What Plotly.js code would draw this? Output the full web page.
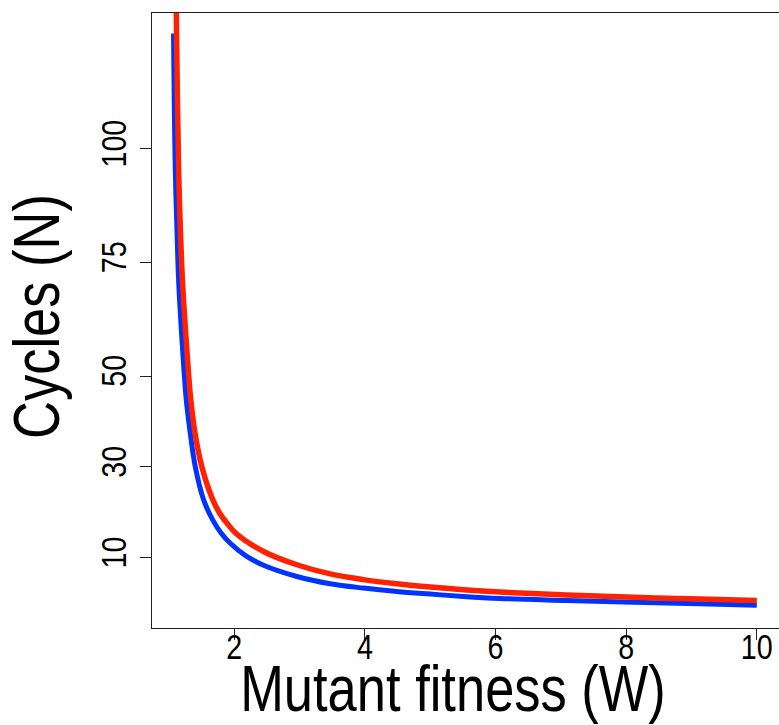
<!DOCTYPE html>
<html>
<head>
<meta charset="utf-8">
<script src="https://cdn.plot.ly/plotly-3.0.1.min.js"></script>
<style>
html, body { margin: 0; padding: 0; overflow: hidden; background: #fff; }
#chart { width: 780px; height: 725px; }
</style>
</head>
<body>
<div id="chart"></div>
<script>
// Mutant fitness (W) and cycles (N)
const blueW = [1.071, 1.097, 1.140, 1.163, 1.227, 1.266, 1.327, 1.403, 1.530, 1.668, 1.801, 1.939, 2.168, 2.448, 2.959, 3.468, 3.978, 4.489, 4.998, 5.507, 6.069, 7.089, 8.108, 9.128, 10.0];
const blueN = [125.4, 96.0, 74.1, 66.7, 52.1, 44.7, 37.4, 30.1, 22.8, 18.4, 15.4, 13.2, 10.55, 8.36, 5.89, 4.29, 3.34, 2.59, 2.02, 1.50, 1.06, 0.62, 0.22, -0.11, -0.45];

const redW = [1.100, 1.113, 1.148, 1.197, 1.224, 1.293, 1.335, 1.400, 1.503, 1.671, 1.782, 1.908, 2.023, 2.448, 2.959, 3.468, 3.978, 4.489, 4.998, 5.507, 6.069, 7.089, 8.108, 9.128, 10.0];
const redN = [141, 129.9, 96.0, 74.1, 66.7, 52.1, 44.7, 37.4, 30.1, 22.8, 19.7, 17.3, 15.4, 11.4, 8.47, 6.45, 5.2, 4.29, 3.56, 2.97, 2.46, 1.82, 1.31, 0.93, 0.62];

const xTicks = [2, 4, 6, 8, 10];
const yTicks = [10, 30, 50, 75, 100];

const FONT = '"Liberation Sans", Arial, Helvetica, sans-serif';
const CONDENSE = 0.82;          // the reference uses a narrow sans face
const XTITLE_SHIFT = [-13, 0];  // screen offsets for the titles
const YTITLE_SHIFT = [-3, -4];

const traces = [
  { x: blueW, y: blueN, type: 'scatter', mode: 'lines',
    line: { color: '#0033FF', width: 5, shape: 'spline', smoothing: 1 }, hoverinfo: 'skip' },
  { x: redW, y: redN, type: 'scatter', mode: 'lines',
    line: { color: '#FF2200', width: 5.5, shape: 'spline', smoothing: 1 }, hoverinfo: 'skip' }
];

const layout = {
  width: 780, height: 725,
  margin: { l: 152, r: 0, t: 13, b: 97, pad: 0 },
  paper_bgcolor: '#fff', plot_bgcolor: '#fff',
  showlegend: false,
  font: { family: FONT, color: '#000' },
  xaxis: {
    range: [0.741, 10.355], tickvals: xTicks, ticktext: xTicks.map(String),
    showgrid: false, zeroline: false,
    showline: true, mirror: true, linecolor: '#222', linewidth: 1,
    ticks: 'outside', ticklen: 11, tickwidth: 1, tickcolor: '#222',
    ticklabelstandoff: -23,
    tickfont: { size: 35, family: FONT, color: '#000' },
    title: { text: 'Mutant fitness (W)', font: { size: 64, family: FONT, color: '#000' }, standoff: 0 },
    automargin: false
  },
  yaxis: {
    range: [-5.45, 129.9], tickvals: yTicks, ticktext: yTicks.map(String),
    showgrid: false, zeroline: false,
    showline: true, mirror: true, linecolor: '#222', linewidth: 1,
    ticks: 'outside', ticklen: 11, tickwidth: 1, tickcolor: '#222',
    tickangle: -90,
    tickfont: { size: 35, family: FONT, color: '#000' },
    title: { text: 'Cycles (N)', font: { size: 64, family: FONT, color: '#000' }, standoff: 10 },
    automargin: false
  }
};

function condense(node, shift) {
  const bb = node.getBBox();
  const cx = bb.x + bb.width / 2, cy = bb.y + bb.height / 2;
  const t = node.getAttribute('transform') || '';
  const outer = shift ? 'translate(' + shift[0] + ',' + shift[1] + ') ' : '';
  node.setAttribute('transform', outer + t + ' translate(' + cx + ',' + cy + ') scale(' + CONDENSE + ',1) translate(' + (-cx) + ',' + (-cy) + ')');
}

Plotly.newPlot('chart', traces, layout, { staticPlot: true, displayModeBar: false }).then(function (gd) {
  gd.querySelectorAll('.xtick text, .ytick text').forEach(function (n) { condense(n, null); });
  const xt = gd.querySelector('.xtitle');
  if (xt) condense(xt, XTITLE_SHIFT);
  const yt = gd.querySelector('.ytitle');
  if (yt) condense(yt, YTITLE_SHIFT);
});
</script>
</body>
</html>
